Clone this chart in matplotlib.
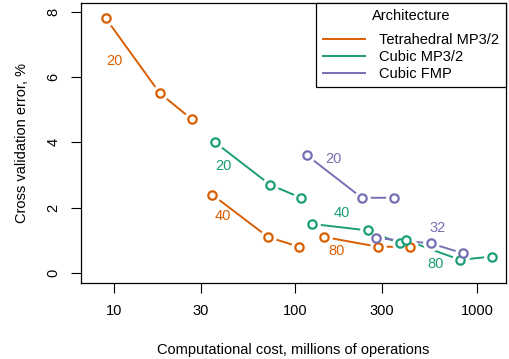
import matplotlib
matplotlib.use("Agg")
from matplotlib import pyplot as plt
from matplotlib.lines import Line2D

plt.rcParams['font.family'] = ['Liberation Sans', 'DejaVu Sans']

# colours (Dark2)
orange = '#D95F02'
green = '#1B9E77'
purple = '#7570B3'

# Tetrahedral MP3/2
tet_20_x = [9.0, 17.9, 26.9]
tet_20_y = [7.8, 5.5, 4.7]
tet_40_x = [34.7, 70.5, 104.5]
tet_40_y = [2.4, 1.1, 0.8]
tet_80_x = [143.5, 285, 427]
tet_80_y = [1.1, 0.8, 0.8]

# Cubic MP3/2
cub_20_x = [36, 72.4, 107]
cub_20_y = [4.0, 2.7, 2.3]
cub_40_x = [123, 250, 377]
cub_40_y = [1.5, 1.3, 0.9]
cub_80_x = [406, 806, 1211]
cub_80_y = [1.0, 0.4, 0.5]

# Cubic FMP
fmp_20_x = [115.7, 232, 347]
fmp_20_y = [3.6, 2.3, 2.3]
fmp_32_x = [277, 558, 838]
fmp_32_y = [1.07, 0.9, 0.6]

series = [
    (tet_20_x, tet_20_y, orange, '20', 10.0, 6.5),
    (tet_40_x, tet_40_y, orange, '40', 40, 1.75),
    (tet_80_x, tet_80_y, orange, '80', 169, 0.68),
    (cub_20_x, cub_20_y, green, '20', 40, 3.28),
    (cub_40_x, cub_40_y, green, '40', 180, 1.82),
    (cub_80_x, cub_80_y, green, '80', 594, 0.28),
    (fmp_20_x, fmp_20_y, purple, '20', 161, 3.5),
    (fmp_32_x, fmp_32_y, purple, '32', 603, 1.38),
]

fig = plt.figure(figsize=(5.09, 3.59), dpi=100)
ax = fig.add_axes([81/509, 1-283/359, 425/509, 280.5/359])

for xs, ys, col, lab, lx, ly in series:
    ax.plot(xs, ys, color=col, lw=1.4, zorder=2)
    # white halo to leave a gap between line and point, like R type="b"
    ax.plot(xs, ys, 'o', ms=11, mfc='white', mec='white', zorder=3)
    ax.plot(xs, ys, 'o', ms=6, mfc='white', mec=col, mew=1.6, zorder=4)
    ax.text(lx, ly, lab, color=col, fontsize=10.5, ha='center', va='center')

ax.set_xscale('log')
ax.set_xlim(6.58, 1445)
ax.set_ylim(-0.31, 8.28)
ax.set_xticks([10, 30, 100, 300, 1000])
ax.set_xticklabels(['10', '30', '100', '300', '1000'])
ax.minorticks_off()
ax.set_yticks([0, 2, 4, 6, 8])
ax.set_yticklabels(['0', '2', '4', '6', '8'], rotation=90, va='center')
ax.tick_params(axis='both', length=7, width=0.8, labelsize=10.5, direction='out')
ax.tick_params(axis='x', pad=8)
ax.tick_params(axis='y', pad=8)
for s in ax.spines.values():
    s.set_linewidth(0.9)

ax.set_xlabel('Computational cost, millions of operations', fontsize=10.5, labelpad=18)
ax.set_ylabel('Cross validation error, %', fontsize=10.5, labelpad=12)

handles = [Line2D([], [], color=orange, lw=1.4),
           Line2D([], [], color=green, lw=1.4),
           Line2D([], [], color=purple, lw=1.4)]
leg = ax.legend(handles, ['Tetrahedral MP3/2', 'Cubic MP3/2', 'Cubic FMP'],
                title='Architecture', loc='upper right', fontsize=10.5,
                title_fontsize=10.5, fancybox=False, edgecolor='black',
                framealpha=1, borderaxespad=0, handlelength=2.9,
                handletextpad=1.0, labelspacing=0.2, borderpad=0.45)
leg.get_frame().set_linewidth(0.9)
leg._legend_box.sep = 7  # more room under the title

fig.savefig('out.png', dpi=100)
